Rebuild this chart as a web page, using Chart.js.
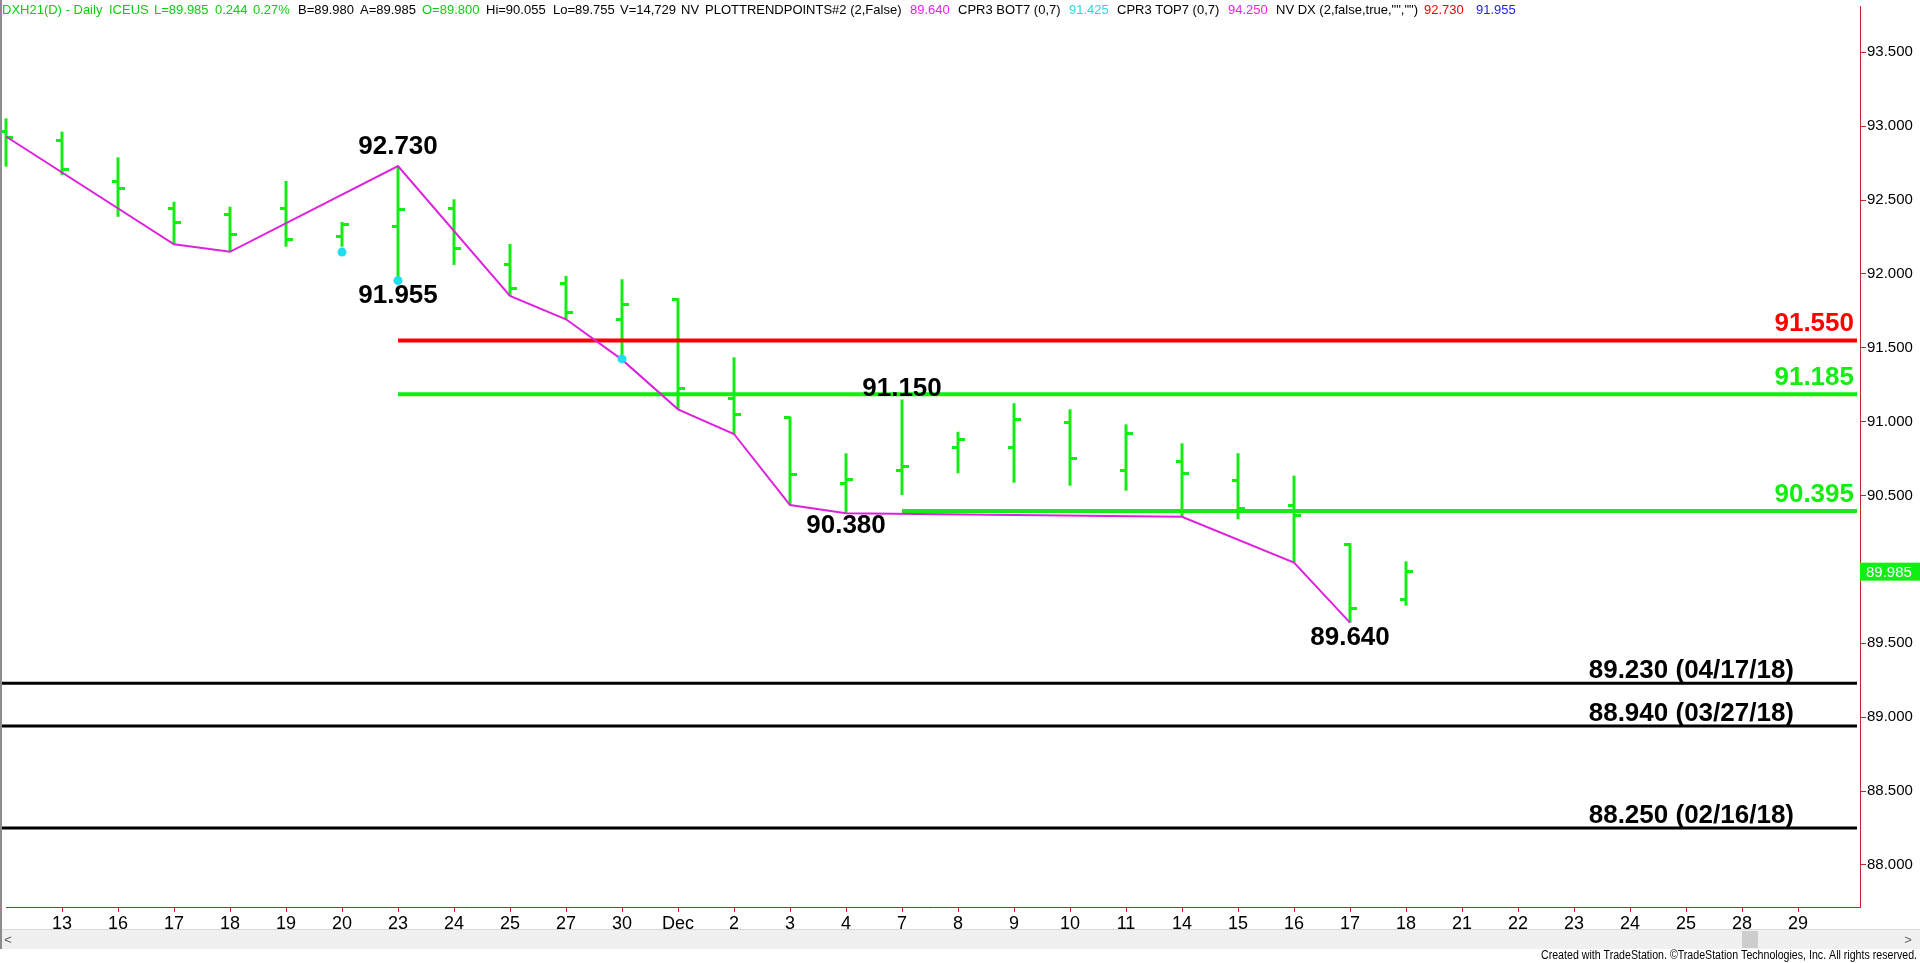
<!DOCTYPE html>
<html>
<head>
<meta charset="utf-8">
<script src="https://cdn.jsdelivr.net/npm/chart.js@4.4.1/dist/chart.umd.min.js"></script>
<style>
html, body { margin: 0; padding: 0; background: #fff; overflow: hidden; }
canvas { display: block; }
</style>
</head>
<body>
<canvas id="dxChart" width="1920" height="963"></canvas>
<script>
// daily bars, DXH21 (Nov 12 .. Dec 18), plus empty future days
const categories = ['12', '13', '16', '17', '18', '19', '20', '23', '24', '25', '27', '30', 'Dec', '2', '3', '4', '7',
    '8', '9', '10', '11', '14', '15', '16', '17', '18', '21', '22', '23', '24', '25', '28', '29'];
const opens  = [92.967, 92.900, 92.624, 92.444, 92.404, 92.444, 92.252, 92.324, 92.444, 92.067, 91.932, 91.693, 91.828,
    91.158, 91.030, 90.583, 90.673, 90.827, 90.827, 90.998, 90.673, 90.734, 90.600, 90.434, 90.170, 89.800];
const highs  = [93.053, 92.963, 92.789, 92.489, 92.455, 92.629, 92.352, 92.730, 92.505, 92.203, 91.986, 91.964, 91.835,
    91.436, 91.034, 90.786, 91.150, 90.932, 91.125, 91.084, 90.982, 90.854, 90.787, 90.635, 90.177, 90.055];
const lows   = [92.726, 92.670, 92.387, 92.201, 92.150, 92.184, 92.184, 91.955, 92.061, 91.851, 91.693, 91.425, 91.084,
    90.917, 90.436, 90.380, 90.504, 90.651, 90.587, 90.567, 90.533, 90.357, 90.340, 90.046, 89.640, 89.755];
const closes = [92.922, 92.708, 92.580, 92.350, 92.264, 92.234, 92.336, 92.433, 92.169, 91.903, 91.738, 91.795, 91.226,
    91.052, 90.644, 90.612, 90.700, 90.881, 91.012, 90.752, 90.921, 90.651, 90.410, 90.362, 89.734, 89.985];

// PLOTTRENDPOINTS swing line (null = no pivot on that bar)
const trendPoints = [92.930, null, null, 92.201, 92.150, null, null, 92.730, null, 91.851, 91.693, 91.420, 91.084,
    90.917, 90.436, 90.380, null, null, null, null, null, 90.357, null, 90.046, 89.640];

// CPR3 bottom dots
const cprIdx  = [6, 7, 11];
const cprVals = [92.148, 91.955, 91.425];

// pivot labels
const pivotIdx  = [7, 7, 16, 15, 24];
const pivotVals = [92.730, 91.955, 91.150, 90.380, 89.640];

// horizontal levels
const levelVals  = [91.550, 91.185, 90.395, 89.230, 88.940, 88.250];
const levelStart = [7, 7, 16, null, null, null];
const levelText  = ['91.550', '91.185', '90.395', '89.230 (04/17/18)', '88.940 (03/27/18)', '88.250 (02/16/18)'];

const yTicks = [88.0, 88.5, 89.0, 89.5, 90.0, 90.5, 91.0, 91.5, 92.0, 92.5, 93.0, 93.5];
const lastPrice = 89.985;

const GREEN = '#11ee11';
const AXIS_RED = '#c0272d';
const levelColors = ['#ff0000', '#11ee11', '#11ee11', '#000000', '#000000', '#000000'];
const pivotDy = [-12, 22, -4, 20, 22];   // label baseline offset from the bar end

// pixel targets used to place the scales (idx 0 at x=6, 56px per bar; 93.5 at y=52.3, 88.0 at y=865)
const X0_PX = 6, BAR_PX = 56;
const Y_TOP_V = 93.5, Y_TOP_PX = 52.3, Y_BOT_V = 88.0, Y_BOT_PX = 865;
const X_LEFT = -4 / 56, X_END = (1857 - 6) / 56;

const SANS = "'Liberation Sans', Arial, sans-serif";

const header = [
    ['DXH21(D) - Daily', '#11cc11', 2], ['ICEUS', '#11cc11', 109], ['L=89.985', '#11cc11', 154],
    ['0.244', '#11cc11', 215], ['0.27%', '#11cc11', 253], ['B=89.980', '#000', 298], ['A=89.985', '#000', 360],
    ['O=89.800', '#11cc11', 422], ['Hi=90.055', '#000', 486], ['Lo=89.755', '#000', 553], ['V=14,729', '#000', 620],
    ['NV', '#000', 681], ['PLOTTRENDPOINTS#2 (2,False)', '#000', 705], ['89.640', '#ee22ee', 910],
    ['CPR3 BOT7 (0,7)', '#000', 958], ['91.425', '#22dddd', 1069], ['CPR3 TOP7 (0,7)', '#000', 1117],
    ['94.250', '#ee22ee', 1228], ['NV DX (2,false,true,"","")', '#000', 1276], ['92.730', '#ee0000', 1424],
    ['91.955', '#2222ee', 1476]
];

// open / close tick images (left half or right half)
function tickImage(side) {
    const c = document.createElement('canvas');
    c.width = 13; c.height = 3;
    const g = c.getContext('2d');
    g.fillStyle = GREEN;
    if (side === 'left') g.fillRect(0, 0, 7, 3); else g.fillRect(6, 0, 7, 3);
    return c;
}

const datasets = [];

datasets.push({
    type: 'scatter', order: 0, clip: false,
    data: cprIdx.map((x, i) => ({ x: x, y: cprVals[i] })),
    pointRadius: 4.5, pointBackgroundColor: '#22ddee', pointBorderWidth: 0
});

datasets.push({
    type: 'line', order: 1, clip: 8,
    data: trendPoints.map((v, i) => ({ x: i, y: v })).filter(p => p.y !== null),
    borderColor: '#dd22dd', borderWidth: 2, pointRadius: 0, tension: 0, fill: false
});

levelVals.forEach((v, i) => {
    datasets.push({
        type: 'line', order: 2, clip: 8,
        data: [{ x: levelStart[i] === null ? X_LEFT : levelStart[i], y: v }, { x: X_END, y: v }],
        borderColor: levelColors[i], borderWidth: i < 3 ? 4 : 3, pointRadius: 0, fill: false
    });
});

datasets.push({
    type: 'bar', order: 3, clip: false,
    data: highs.map((h, i) => ({ x: i, y: [lows[i], h] })),
    backgroundColor: GREEN, borderWidth: 0, barThickness: 3, inflateAmount: 0
});
datasets.push({
    type: 'scatter', order: 3, clip: false,
    data: opens.map((o, i) => ({ x: i, y: o })),
    pointStyle: tickImage('left'), pointRadius: 5
});
datasets.push({
    type: 'scatter', order: 3, clip: false,
    data: closes.map((c, i) => ({ x: i, y: c })),
    pointStyle: tickImage('right'), pointRadius: 5
});

const decorPlugin = {
    id: 'decor',
    afterDatasetsDraw(chart) {
        const ctx = chart.ctx, xs = chart.scales.x, ys = chart.scales.y;
        ctx.save();
        // level labels
        ctx.font = 'bold 26px ' + SANS;
        ctx.textBaseline = 'alphabetic';
        levelVals.forEach((v, i) => {
            ctx.fillStyle = levelColors[i];
            ctx.textAlign = 'right';
            const y = ys.getPixelForValue(v);
            if (i < 3) ctx.fillText(levelText[i], 1854, y - 9);
            else ctx.fillText(levelText[i], 1794, y - 5);
        });
        // pivot labels
        ctx.fillStyle = '#000';
        ctx.textAlign = 'center';
        pivotVals.forEach((v, i) => {
            const x = xs.getPixelForValue(pivotIdx[i]);
            const y = ys.getPixelForValue(v);
            ctx.fillText(v.toFixed(3), x, y + pivotDy[i]);
        });
        ctx.restore();
    },
    afterDraw(chart) {
        const ctx = chart.ctx, ys = chart.scales.y;
        ctx.save();
        // last price box
        const py = ys.getPixelForValue(lastPrice);
        ctx.fillStyle = GREEN;
        ctx.fillRect(1860, py - 9, 60, 18);
        ctx.fillStyle = '#fff';
        ctx.font = '15px ' + SANS;
        ctx.textAlign = 'left';
        ctx.textBaseline = 'middle';
        ctx.fillText(lastPrice.toFixed(3), 1866, py + 1);

        // header
        ctx.font = '13px ' + SANS;
        header.forEach(h => {
            ctx.fillStyle = h[1];
            ctx.fillText(h[0], h[2], 10);
        });

        // scrollbar
        ctx.fillStyle = '#f0f0f0';
        ctx.fillRect(0, 930, 1920, 19);
        ctx.strokeStyle = '#d8d8d8';
        ctx.lineWidth = 1;
        ctx.beginPath(); ctx.moveTo(0, 929.5); ctx.lineTo(1920, 929.5); ctx.stroke();
        ctx.fillStyle = '#cdcdcd';
        ctx.fillRect(1742, 931, 16, 17);
        ctx.fillStyle = '#606060';
        ctx.font = '13px ' + SANS;
        ctx.textAlign = 'center';
        ctx.fillText('<', 8, 940);
        ctx.fillText('>', 1908, 940);

        // left border
        ctx.fillStyle = '#8c8c8c';
        ctx.fillRect(0, 0, 2, 949);

        // footer, squeezed to the narrow look of the original
        const foot = 'Created with TradeStation. \u00A9TradeStation Technologies, Inc. All rights reserved.';
        ctx.fillStyle = '#000';
        ctx.font = '12.5px ' + SANS;
        const fw = ctx.measureText(foot).width;
        const sx = 376 / fw;
        ctx.translate(1917, 956);
        ctx.scale(sx, 1);
        ctx.textAlign = 'right';
        ctx.fillText(foot, 0, 0);
        ctx.restore();
    }
};

const chart = new Chart(document.getElementById('dxChart'), {
    type: 'scatter',
    data: { datasets: datasets },
    options: {
        responsive: false,
        animation: false,
        devicePixelRatio: 1,
        layout: { padding: { left: 2, top: 0, right: 0, bottom: 0 } },
        plugins: { legend: { display: false }, tooltip: { enabled: false } },
        scales: {
            x: {
                type: 'linear', min: X_LEFT, max: 33.1, offset: false,
                afterBuildTicks: s => { s.ticks = categories.map((c, i) => ({ value: i })).filter(t => t.value > 0); },
                afterFit: s => { s.height = 56; s.paddingLeft = 0; s.paddingRight = 0; },
                ticks: {
                    autoSkip: false, maxRotation: 0, padding: 1, color: '#000',
                    font: { family: SANS, size: 18 },
                    callback: v => categories[v]
                },
                grid: { drawOnChartArea: false, drawTicks: true, tickLength: 5, color: AXIS_RED, offset: false },
                border: { display: true, color: AXIS_RED, width: 1 }
            },
            y: {
                type: 'linear', position: 'right', min: 87.7, max: 93.85,
                afterBuildTicks: s => { s.ticks = yTicks.map(v => ({ value: v })); },
                afterFit: s => { s.width = 60; s.paddingTop = 0; s.paddingBottom = 0; },
                ticks: {
                    padding: 1, color: '#000',
                    font: { family: SANS, size: 15 },
                    callback: v => v.toFixed(3)
                },
                grid: { drawOnChartArea: false, drawTicks: true, tickLength: 6, color: AXIS_RED },
                border: { display: true, color: AXIS_RED, width: 1 }
            }
        }
    },
    plugins: [decorPlugin]
});

// fit the scale ranges to the laid-out chart area so ticks land where the original has them
const ca = chart.chartArea;
const ppu = (Y_BOT_PX - Y_TOP_PX) / (Y_TOP_V - Y_BOT_V);
chart.options.scales.y.max = Y_TOP_V + (Y_TOP_PX - ca.top) / ppu;
chart.options.scales.y.min = Y_BOT_V - (ca.bottom - Y_BOT_PX) / ppu;
chart.options.scales.x.min = (ca.left - X0_PX) / BAR_PX;
chart.options.scales.x.max = (ca.right - X0_PX) / BAR_PX;
chart.update();
</script>
</body>
</html>
